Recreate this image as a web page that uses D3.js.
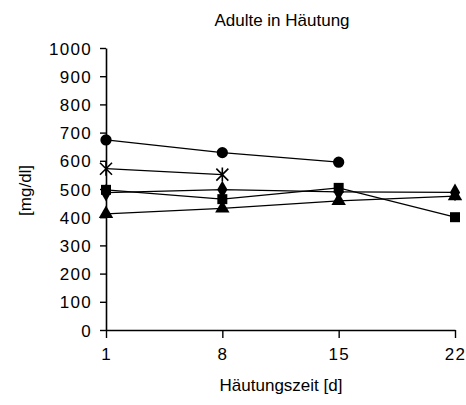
<!DOCTYPE html>
<html>
<head>
<meta charset="utf-8">
<script src="https://cdn.jsdelivr.net/npm/d3@7"></script>
<style>
  html, body { margin: 0; padding: 0; background: #fff; }
  svg text { font-family: "Liberation Sans", Arial, Helvetica, sans-serif; fill: #000; }
</style>
</head>
<body>
<svg id="chart" width="466" height="405"></svg>
<script>
// Sampling days (x-axis) and tick labels
const days = [1, 8, 15, 22];
const yTicks = [0, 100, 200, 300, 400, 500, 600, 700, 800, 900, 1000];

// Measured values per series [mg/dl]
const circleDays = [1, 8, 15];
const circleVals = [674, 629, 595];
const starDays = [1, 8];
const starVals = [572, 551];
const diamondDays = [1, 8, 15, 22];
const diamondVals = [487, 498, 490, 488];
const squareDays = [1, 8, 15, 22];
const squareVals = [497, 464, 504, 400];
const triangleDays = [1, 8, 15, 22];
const triangleVals = [412, 431, 458, 475];

const title = "Adulte in Häutung";
const xTitle = "Häutungszeit [d]";
const yTitle = "[mg/dl]";

const svg = d3.select("#chart");
const margin = { left: 106, right: 11, top: 48, bottom: 75 };
const W = 466, H = 405;

const x = d3.scaleLinear().domain([1, 22]).range([margin.left, W - margin.right]);
const y = d3.scaleLinear().domain([0, 1000]).range([H - margin.bottom, margin.top]);

// Axes
const xAxis = d3.axisBottom(x).tickValues(days).tickFormat(d3.format("d"))
  .tickSize(8).tickPadding(10).tickSizeOuter(0);
const yAxis = d3.axisLeft(y).tickValues(yTicks).tickFormat(d3.format("d"))
  .tickSize(6).tickPadding(8).tickSizeOuter(0);

const gx = svg.append("g").attr("transform", `translate(0,${y(0)})`).call(xAxis);
const gy = svg.append("g").attr("transform", `translate(${x(1)},0)`).call(yAxis);

[gx, gy].forEach(g => {
  g.selectAll("path.domain").attr("stroke", "#000").attr("stroke-width", 1.6);
  g.selectAll(".tick line").attr("stroke", "#000").attr("stroke-width", 1.4);
  g.selectAll("text").style("font-size", "17px").style("letter-spacing", "1.3px").attr("fill", "#000");
});
gy.selectAll("text").attr("dy", "0.36em");
gx.selectAll("text").attr("dy", "0.71em");

// Titles
svg.append("text").attr("x", 282).attr("y", 26).attr("text-anchor", "middle")
  .style("font-size", "17px").text(title);
svg.append("text").attr("x", 281).attr("y", 391).attr("text-anchor", "middle")
  .style("font-size", "17px").text(xTitle);
svg.append("text").attr("transform", `translate(31,${y(495)}) rotate(-90)`)
  .attr("text-anchor", "middle").style("font-size", "17px").text(yTitle);

// Series
const series = [
  { name: "circle", d: circleDays, v: circleVals },
  { name: "star", d: starDays, v: starVals },
  { name: "diamond", d: diamondDays, v: diamondVals },
  { name: "square", d: squareDays, v: squareVals },
  { name: "triangle", d: triangleDays, v: triangleVals }
];

const line = d3.line().x(p => x(p[0])).y(p => y(p[1]));

const symbolFor = {
  circle: d3.symbol().type(d3.symbolCircle).size(100),
  diamond: d3.symbol().type(d3.symbolDiamond).size(90),
  square: d3.symbol().type(d3.symbolSquare).size(100),
  triangle: d3.symbol().type(d3.symbolTriangle).size(90)
};

series.forEach(s => {
  const pts = s.d.map((dd, i) => [dd, s.v[i]]);
  svg.append("path").datum(pts).attr("d", line)
    .attr("fill", "none").attr("stroke", "#000").attr("stroke-width", 1.3);
  const g = svg.append("g");
  pts.forEach(p => {
    const cx = x(p[0]), cy = y(p[1]);
    if (s.name === "star") {
      const r = 6;
      g.append("path")
        .attr("d", `M${cx - r},${cy - r}L${cx + r},${cy + r}M${cx - r},${cy + r}L${cx + r},${cy - r}M${cx},${cy - r - 1}L${cx},${cy + r + 1}`)
        .attr("stroke", "#000").attr("stroke-width", 1.6).attr("fill", "none");
    } else {
      g.append("path").attr("d", symbolFor[s.name]())
        .attr("transform", `translate(${cx},${cy})`).attr("fill", "#000");
    }
  });
});
</script>
</body>
</html>
